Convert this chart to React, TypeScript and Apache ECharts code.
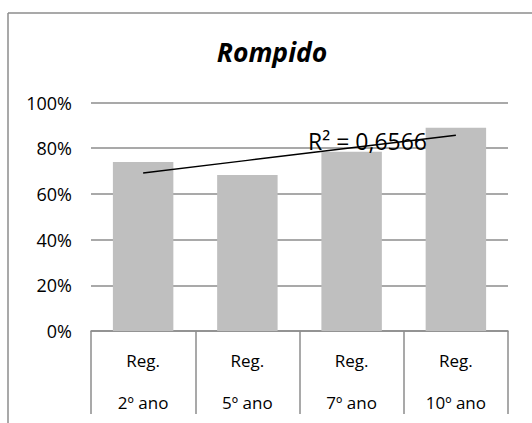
import React, { useEffect, useRef } from "react";
import * as echarts from "echarts";

const categories = ["Reg.\n2º ano", "Reg.\n5º ano", "Reg.\n7º ano", "Reg.\n10º ano"];
const values = [0.74, 0.683, 0.784, 0.89];
const yTicks = [0, 0.2, 0.4, 0.6, 0.8, 1.0];
const titleText = "Rompido";
const r2Text = "R² = 0,6566";

function linearTrend(ys: number[]): number[] {
  const n = ys.length;
  const xs = ys.map((_, i) => i);
  const mx = xs.reduce((a, b) => a + b, 0) / n;
  const my = ys.reduce((a, b) => a + b, 0) / n;
  let sxy = 0;
  let sxx = 0;
  for (let i = 0; i < n; i++) {
    sxy += (xs[i] - mx) * (ys[i] - my);
    sxx += (xs[i] - mx) * (xs[i] - mx);
  }
  const slope = sxy / sxx;
  return xs.map((x) => my + slope * (x - mx));
}

export default function App() {
  const ref = useRef<HTMLDivElement>(null);
  useEffect(() => {
    document.body.style.margin = "0";
    if (!ref.current) return;
    const chart = echarts.init(ref.current, null, { renderer: "svg" });
    const font = "Open Sans";
    const trend = linearTrend(values);
    chart.setOption({
      animation: false,
      backgroundColor: "#ffffff",
      textStyle: { fontFamily: font },
      title: {
        text: titleText,
        left: 267,
        top: 33,
        textAlign: "center",
        textStyle: {
          fontFamily: font,
          fontSize: 26.5,
          fontWeight: "bold",
          fontStyle: "italic",
          color: "#000000",
        },
      },
      grid: { left: 91, right: 24, top: 102.5, bottom: 91 },
      xAxis: {
        type: "category",
        data: categories,
        axisLine: { show: true, lineStyle: { color: "#8c8c8c", width: 1.5 } },
        axisTick: {
          show: true,
          length: 83,
          lineStyle: { color: "#8c8c8c", width: 1.5 },
        },
        axisLabel: {
          fontFamily: font,
          fontSize: 17,
          color: "#000000",
          lineHeight: 42,
          margin: 8,
        },
      },
      yAxis: {
        type: "value",
        min: 0,
        max: 1,
        interval: 0.2,
        axisLine: { show: false },
        axisTick: { show: false },
        splitLine: { show: true, lineStyle: { color: "#8c8c8c", width: 1.5 } },
        axisLabel: {
          fontFamily: font,
          fontSize: 18,
          color: "#000000",
          margin: 19,
          formatter: (v: number) =>
            yTicks.some((t) => Math.abs(t - v) < 1e-9) ? Math.round(v * 100) + "%" : "",
        },
      },
      series: [
        {
          type: "bar",
          data: values,
          barCategoryGap: "42%",
          itemStyle: { color: "#bfbfbf" },
          z: 2,
        },
        {
          type: "line",
          data: trend,
          symbol: "none",
          lineStyle: { color: "#000000", width: 1.5 },
          z: 3,
        },
      ],
      graphic: [
        {
          type: "line",
          shape: { x1: 8, y1: 13, x2: 532, y2: 13 },
          style: { stroke: "#8c8c8c", lineWidth: 1.5 },
        },
        {
          type: "line",
          shape: { x1: 8, y1: 13, x2: 8, y2: 423 },
          style: { stroke: "#8c8c8c", lineWidth: 1.5 },
        },
        {
          type: "text",
          x: 308,
          y: 141,
          z: 10,
          style: {
            text: r2Text,
            fontFamily: font,
            fontSize: 23,
            fill: "#000000",
            verticalAlign: "middle",
            align: "left",
          },
        },
      ],
    });
    return () => chart.dispose();
  }, []);
  return <div ref={ref} style={{ width: 532, height: 423 }} />;
}
